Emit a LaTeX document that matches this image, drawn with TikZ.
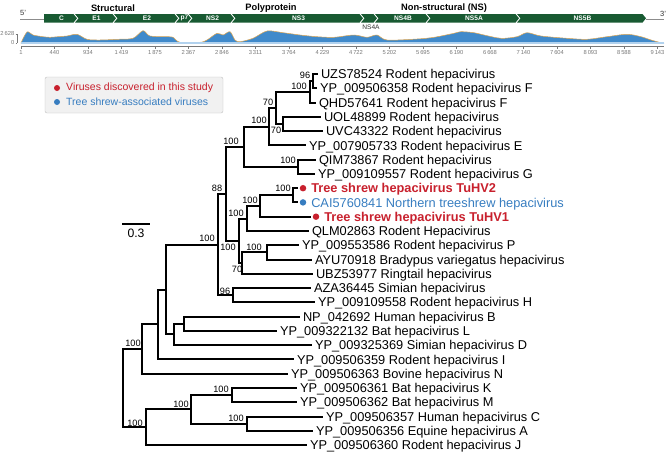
\documentclass[tikz,border=0pt]{standalone}
\usepackage{fontspec}
\setmainfont{Liberation Sans}
\usetikzlibrary{positioning,calc}
\definecolor{virusred}{RGB}{200,32,45}
\definecolor{shrewblue}{RGB}{55,125,192}
\definecolor{genegreen}{RGB}{24,90,50}
\definecolor{covblue}{RGB}{64,138,203}
\definecolor{covlight}{RGB}{178,210,238}
\definecolor{covorange}{RGB}{222,165,80}
\definecolor{legendgray}{RGB}{241,241,241}
\definecolor{axisgray}{RGB}{120,120,120}
\tikzset{
    branch/.style={line width=2pt},
    leaf/.style={anchor=west, inner sep=0pt, outer xsep=3pt, text height=11.9pt, text depth=2.7pt, font=\fontsize{12.8}{14}\selectfont},
    newleaf/.style={leaf, text=virusred, font=\fontsize{12.8}{14}\selectfont\bfseries},
    shrewleaf/.style={leaf, text=shrewblue},
    tipdot/.style={circle, fill=#1, inner sep=0pt, minimum size=6.5pt, outer sep=2pt},
    boot/.style={inner sep=0pt, font=\fontsize{9.2}{10}\selectfont},
    header/.style={inner sep=0pt, font=\fontsize{9.3}{11}\selectfont\bfseries},
    genelabel/.style={inner sep=0pt, text=white, font=\fontsize{6.6}{7}\selectfont\bfseries},
    genesmall/.style={inner sep=0pt, text=black!80, font=\fontsize{6.6}{7}\selectfont},
    ticklabel/.style={inner sep=0pt, text=axisgray, font=\fontsize{5.8}{6}\selectfont},
    axisline/.style={axisgray, line width=0.6pt},
    keytext/.style={inner sep=0pt, font=\fontsize{10.5}{12}\selectfont},
}
\newcommand{\genearrow}[5]{% left, tip, notch, name, label
    \fill[genegreen] (#1,14) -- ({#2-3.5},14) -- (#2,18.3) -- ({#2-3.5},22.6) -- (#1,22.6) -- ({#1+#3},18.3) -- cycle;
    \node[genelabel] (#4) at ({(#1+#2)/2+1},18.3) {#5};
}

\begin{document}
\begin{tikzpicture}[x=1pt, y=-1pt]
    \useasboundingbox (0,0) rectangle (669,455);

    % Genome map
    \node[header] (structural) at (113,8) {Structural};
    \node[header] (polyprotein) at (271,8) {Polyprotein};
    \node[header] (nonstructural) at (444,8) {Non-structural (NS)};
    \draw[black!45, line width=1pt] (20,19) -- (44,19);
    \draw[black!45, line width=1pt] (646,19) -- (664,19);
    \node[genesmall, font=\fontsize{7.5}{8}\selectfont] (fiveend) at (23,13) {5'};
    \node[genesmall, font=\fontsize{7.5}{8}\selectfont] (threeend) at (663,14) {3'};
    \genearrow{44}{77}{0}{genec}{C}
    \genearrow{75}{116}{3.5}{genee1}{E1}
    \genearrow{114}{178}{3.5}{genee2}{E2}
    \genearrow{176}{191}{3.5}{genep7}{p7}
    \genearrow{189}{234}{3.5}{genens2}{NS2}
    \genearrow{232}{363}{3.5}{genens3}{NS3}
    \genearrow{361}{377}{3.5}{genens4a}{}
    \genearrow{375}{429}{3.5}{genens4b}{NS4B}
    \genearrow{427}{519}{3.5}{genens5a}{NS5A}
    \genearrow{517}{646}{3.5}{genens5b}{NS5B}
    \node[genesmall] (ns4alabel) at (371,27.5) {NS4A};

    % Coverage
    \filldraw[fill=covblue, draw=covorange, line width=0.5pt] (21,43) -- plot[smooth, tension=0.5] coordinates {
        (21,43) (27,32) (33,35) (43,36.7) (50,37.3) (58,36.7) (67,36) (77,34.3) (87,39.3) (100,40)
        (117,39.3) (133,38.3) (143,30.7) (150,36) (167,36.7) (173,37.3) (180,42.3) (200,42.3) (207,40)
        (217,33.3) (223,35) (230,31.7) (235,40) (240,41.7) (253,38.3) (267,31) (283,32.7) (300,35)
        (317,36.7) (334,37.3) (354,35) (367,37.3) (377,35) (387,40) (417,39) (434,37.3) (454,33.3)
        (461,31.7) (474,32.7) (484,35) (501,38.3) (517,36.7) (527,32.7) (541,36) (567,38.3) (587,39.3)
        (607,36.7) (627,34.3) (641,36.7) (651,40) (661,42.7) (664,43)} -- (664,43) -- cycle;
    \fill[covlight] (21,41.8) rectangle (664,43.6);
    \draw[axisline] (21,46) -- (664,46);
    \foreach \i/\lab in {0/1, 1/440, 2/934, 3/1\,419, 4/1\,875, 5/2\,367, 6/2\,846, 7/3\,311, 8/3\,764, 9/4\,229,
        10/4\,722, 11/5\,202, 12/5\,695, 13/6\,190, 14/6\,668, 15/7\,140, 16/7\,604, 17/8\,093, 18/8\,588, 19/9\,143} {
        \draw[axisline] ({21+33.5*\i},46) -- ({21+33.5*\i},48.5);
        \node[ticklabel] (tick\i) at ({21+33.5*\i},52.5) {\lab};
    }
    \draw[axisline] (17,34) -- (17,43);
    \draw[axisline] (15.5,34) -- (17,34);
    \draw[axisline] (15.5,43) -- (17,43);
    \node[ticklabel, anchor=east] (covmax) at (14.5,34) {2\,628};
    \node[ticklabel, anchor=east] (covmin) at (14.5,43) {0};

    % Legend
    \node[draw=black!25, fill=legendgray, rounded corners=2pt, minimum width=178pt, minimum height=36pt, inner sep=0pt] (legend) at (134,95) {};
    \node[tipdot=virusred, minimum size=6pt] (keyred) at (57,88) {};
    \node[keytext, text=virusred, right=4pt of keyred] (keyredtext) {Viruses discovered in this study};
    \node[tipdot=shrewblue, minimum size=6pt] (keyblue) at (57,102) {};
    \node[keytext, text=shrewblue, right=4pt of keyblue] (keybluetext) {Tree shrew-associated viruses};

    % Scale bar
    \coordinate (barleft) at (122,224);
    \coordinate (barright) at (150,224);
    \draw[line width=1.4pt] (barleft) -- (barright);
    \node[inner sep=0pt, font=\fontsize{12.2}{13}\selectfont] (barlabel) at (136,233.5) {0.3};

    % Leaves
    \node[leaf] (uzs78524) at (318,74.0) {UZS78524 Rodent hepacivirus};
    \node[leaf] (yp506358) at (317,88.3) {YP\_009506358 Rodent hepacivirus F};
    \node[leaf] (qhd57641) at (316,102.5) {QHD57641 Rodent hepacivirus F};
    \node[leaf] (uol48899) at (321,116.8) {UOL48899 Rodent hepacivirus};
    \node[leaf] (uvc43322) at (323,131.1) {UVC43322 Rodent hepacivirus};
    \node[leaf] (yp905733) at (306,145.4) {YP\_007905733 Rodent hepacivirus E};
    \node[leaf] (qim73867) at (316,159.6) {QIM73867 Rodent hepacivirus};
    \node[leaf] (yp109557) at (315,173.9) {YP\_009109557 Rodent hepacivirus G};
    \node[tipdot=virusred] (tuhv2dot) at (303,188.2) {};
    \node[newleaf, right=0pt of tuhv2dot] (tuhv2) {Tree shrew hepacivirus TuHV2};
    \node[tipdot=shrewblue] (caidot) at (303,202.4) {};
    \node[shrewleaf, right=0pt of caidot] (cai5760841) {CAI5760841 Northern treeshrew hepacivirus};
    \node[tipdot=virusred] (tuhv1dot) at (316,216.7) {};
    \node[newleaf, right=0pt of tuhv1dot] (tuhv1) {Tree shrew hepacivirus TuHV1};
    \node[leaf] (qlm02863) at (309,231.0) {QLM02863 Rodent Hepacivirus};
    \node[leaf] (yp553586) at (299,245.2) {YP\_009553586 Rodent hepacivirus P};
    \node[leaf] (ayu70918) at (312,259.5) {AYU70918 Bradypus variegatus hepacivirus};
    \node[leaf] (ubz53977) at (313,273.8) {UBZ53977 Ringtail hepacivirus};
    \node[leaf] (aza36445) at (311,288.1) {AZA36445 Simian hepacivirus};
    \node[leaf] (yp109558) at (315,302.3) {YP\_009109558 Rodent hepacivirus H};
    \node[leaf] (np042692) at (300,316.6) {NP\_042692 Human hepacivirus B};
    \node[leaf] (yp322132) at (277,330.9) {YP\_009322132 Bat hepacivirus L};
    \node[leaf] (yp325369) at (312,345.1) {YP\_009325369 Simian hepacivirus D};
    \node[leaf] (yp506359) at (294,359.4) {YP\_009506359 Rodent hepacivirus I};
    \node[leaf] (yp506363) at (288,373.7) {YP\_009506363 Bovine hepacivirus N};
    \node[leaf] (yp506361) at (297,388.0) {YP\_009506361 Bat hepacivirus K};
    \node[leaf] (yp506362) at (297,402.2) {YP\_009506362 Bat hepacivirus M};
    \node[leaf] (yp506357) at (323,416.5) {YP\_009506357 Human hepacivirus C};
    \node[leaf] (yp506356) at (313,430.8) {YP\_009506356 Equine hepacivirus A};
    \node[leaf] (yp506360) at (307,445.0) {YP\_009506360 Rodent hepacivirus J};

    % Internal nodes
    \coordinate (rodF) at (313,81.2);
    \coordinate (rodFall) at (310,91.8);
    \coordinate (rodUO) at (283,124);
    \coordinate (rodA) at (276,107.9);
    \coordinate (rodE) at (269,126.6);
    \coordinate (rodG) at (298,166.8);
    \coordinate (rodclade) at (244,146.7);
    \coordinate (shrewpair) at (293,195.3);
    \coordinate (shrew) at (260,206);
    \coordinate (shrewqlm) at (247,218.5);
    \coordinate (rodP) at (267,252.4);
    \coordinate (ringtail) at (242,263.1);
    \coordinate (shrewring) at (239,240.8);
    \coordinate (upper) at (226,193.7);
    \coordinate (simian) at (233,295.2);
    \coordinate (bigclade) at (218,244.5);
    \coordinate (humanbat) at (184,323.7);
    \coordinate (simianD) at (174,334.4);
    \coordinate (cladeI) at (166,289.5);
    \coordinate (cladeN) at (158,324.4);
    \coordinate (groupone) at (142,349);
    \coordinate (batKM) at (232,395.1);
    \coordinate (hcv) at (247,423.6);
    \coordinate (batHCV) at (191,409.4);
    \coordinate (grouptwo) at (146,427.2);
    \coordinate (root) at (123,388);

    % Branches
    \draw[branch] (rodF) |- (uzs78524);
    \draw[branch] (rodF) |- (yp506358);
    \draw[branch] (rodFall) |- (rodF);
    \draw[branch] (rodFall) |- (qhd57641);
    \draw[branch] (rodUO) |- (uol48899);
    \draw[branch] (rodUO) |- (uvc43322);
    \draw[branch] (rodA) |- (rodFall);
    \draw[branch] (rodA) |- (rodUO);
    \draw[branch] (rodE) |- (rodA);
    \draw[branch] (rodE) |- (yp905733);
    \draw[branch] (rodG) |- (qim73867);
    \draw[branch] (rodG) |- (yp109557);
    \draw[branch] (rodclade) |- (rodE);
    \draw[branch] (rodclade) |- (rodG);
    \draw[branch] (shrewpair) |- (tuhv2dot);
    \draw[branch] (shrewpair) |- (caidot);
    \draw[branch] (shrew) |- (shrewpair);
    \draw[branch] (shrew) |- (tuhv1dot);
    \draw[branch] (shrewqlm) |- (shrew);
    \draw[branch] (shrewqlm) |- (qlm02863);
    \draw[branch] (rodP) |- (yp553586);
    \draw[branch] (rodP) |- (ayu70918);
    \draw[branch] (ringtail) |- (rodP);
    \draw[branch] (ringtail) |- (ubz53977);
    \draw[branch] (shrewring) |- (shrewqlm);
    \draw[branch] (shrewring) |- (ringtail);
    \draw[branch] (upper) |- (rodclade);
    \draw[branch] (upper) |- (shrewring);
    \draw[branch] (simian) |- (aza36445);
    \draw[branch] (simian) |- (yp109558);
    \draw[branch] (bigclade) |- (upper);
    \draw[branch] (bigclade) |- (simian);
    \draw[branch] (humanbat) |- (np042692);
    \draw[branch] (humanbat) |- (yp322132);
    \draw[branch] (simianD) |- (humanbat);
    \draw[branch] (simianD) |- (yp325369);
    \draw[branch] (cladeI) |- (bigclade);
    \draw[branch] (cladeI) |- (simianD);
    \draw[branch] (cladeN) |- (cladeI);
    \draw[branch] (cladeN) |- (yp506359);
    \draw[branch] (groupone) |- (cladeN);
    \draw[branch] (groupone) |- (yp506363);
    \draw[branch] (batKM) |- (yp506361);
    \draw[branch] (batKM) |- (yp506362);
    \draw[branch] (hcv) |- (yp506357);
    \draw[branch] (hcv) |- (yp506356);
    \draw[branch] (batHCV) |- (batKM);
    \draw[branch] (batHCV) |- (hcv);
    \draw[branch] (grouptwo) |- (batHCV);
    \draw[branch] (grouptwo) |- (yp506360);
    \draw[branch] (root) |- (groupone);
    \draw[branch] (root) |- (grouptwo);

    % Bootstrap values
    \node[boot] (brodF) at (305,75) {96};
    \node[boot] (brodFall) at (299,86) {100};
    \node[boot] (brodUO) at (276,130) {70};
    \node[boot] (brodA) at (268,102) {70};
    \node[boot] (brodE) at (259,120) {100};
    \node[boot] (brodG) at (288,160) {100};
    \node[boot] (brodclade) at (231,141) {100};
    \node[boot] (bupper) at (217,188) {88};
    \node[boot] (bshrewpair) at (283,188) {100};
    \node[boot] (bshrew) at (250,200) {100};
    \node[boot] (bshrewqlm) at (236,213) {100};
    \node[boot] (brodP) at (254,247) {100};
    \node[boot] (bringtail) at (237,269) {70};
    \node[boot] (bshrewring) at (228,247) {100};
    \node[boot] (bsimian) at (225,291) {96};
    \node[boot] (bbigclade) at (207,238) {100};
    \node[boot] (bgroupone) at (133,343) {100};
    \node[boot] (bbatKM) at (221,389) {100};
    \node[boot] (bhcv) at (236,418) {100};
    \node[boot] (bbatHCV) at (181,404) {100};
    \node[boot] (bgrouptwo) at (135,423) {100};
\end{tikzpicture}
\end{document}
